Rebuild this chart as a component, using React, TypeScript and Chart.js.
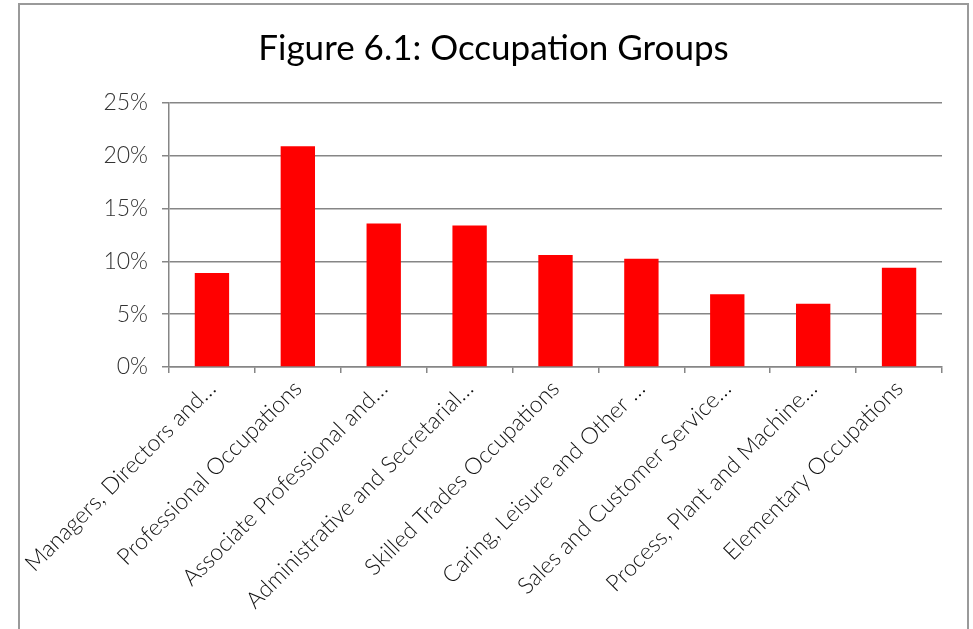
import React, { useEffect, useRef } from "react";
import { Chart, registerables } from "chart.js";

Chart.register(...registerables);

const categories = [
  "Managers, Directors and…",
  "Professional Occupations",
  "Associate Professional and…",
  "Administrative and Secretarial…",
  "Skilled Trades Occupations",
  "Caring, Leisure and Other …",
  "Sales and Customer Service…",
  "Process, Plant and Machine…",
  "Elementary Occupations",
];
const shares = [8.9, 20.9, 13.6, 13.4, 10.6, 10.25, 6.9, 6.0, 9.4];
const yTickValues = [0, 5, 10, 15, 20, 25];
const titleText = "Figure 6.1: Occupation Groups";

const FONT = "'Lato', 'Open Sans', sans-serif";

const frame = {
  id: "frame",
  beforeDraw(chart: any) {
    const ctx = chart.ctx;
    ctx.save();
    ctx.fillStyle = "#ffffff";
    ctx.fillRect(0, 0, chart.width, chart.height);
    ctx.strokeStyle = "#9a9a9a";
    ctx.lineWidth = 2;
    ctx.strokeRect(19, 4, 949, 700);
    ctx.restore();
  },
};

export default function App() {
  const ref = useRef<HTMLCanvasElement | null>(null);
  useEffect(() => {
    if (!ref.current) return;
    const chart = new Chart(ref.current, {
      type: "bar",
      data: {
        labels: categories,
        datasets: [
          {
            data: shares,
            backgroundColor: "#ff0000",
            borderWidth: 0,
            barPercentage: 0.4,
            categoryPercentage: 1,
          },
        ],
      },
      options: {
        animation: false,
        responsive: false,
        devicePixelRatio: 1,
        layout: { padding: { left: 19, right: 5, top: 4, bottom: 0 } },
        plugins: {
          legend: { display: false },
          tooltip: { enabled: false },
          title: {
            display: true,
            text: titleText,
            color: "#000000",
            font: { family: FONT, size: 35, weight: "normal", lineHeight: 1.2 },
            padding: { top: 24, bottom: 33 },
          },
        },
        scales: {
          x: {
            offset: true,
            grid: {
              offset: true,
              drawOnChartArea: false,
              drawTicks: true,
              tickLength: 6,
              color: "#868686",
              lineWidth: 1.5,
            },
            border: { display: true, color: "#868686", width: 1.5 },
            ticks: {
              autoSkip: false,
              maxRotation: 45,
              minRotation: 45,
              padding: 2,
              color: "#111111",
              font: { family: FONT, size: 23, weight: 300 },
            },
            afterFit: (s: any) => {
              s.height = 629 - 367;
            },
          },
          y: {
            min: 0,
            max: 25,
            afterBuildTicks: (s: any) => {
              s.ticks = yTickValues.map((v) => ({ value: v }));
            },
            grid: {
              color: "#868686",
              lineWidth: 1.5,
              tickLength: 7,
            },
            border: { display: true, color: "#868686", width: 1.5 },
            ticks: {
              padding: 14,
              color: "#333333",
              font: { family: FONT, size: 23, weight: 300 },
              callback: (v: any) => v + "%",
            },
            afterFit: (s: any) => {
              s.width = 150;
            },
          },
          yr: {
            position: "right",
            display: true,
            grid: { display: false, drawOnChartArea: false },
            border: { display: false },
            ticks: { display: false },
            afterFit: (s: any) => {
              s.width = 26;
            },
          },
        },
      },
      plugins: [frame],
    });
    return () => chart.destroy();
  }, []);
  return (
    <div style={{ position: "absolute", left: 0, top: 0, width: 973, height: 629 }}>
      <canvas ref={ref} width={973} height={629} style={{ display: "block" }} />
    </div>
  );
}
